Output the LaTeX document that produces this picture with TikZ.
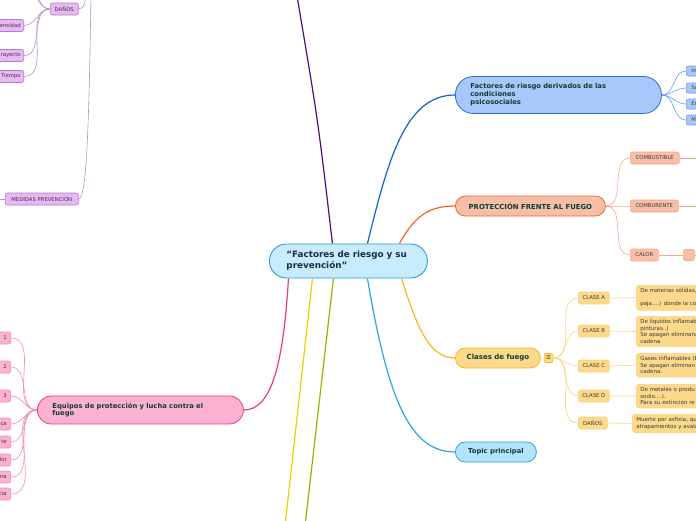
\documentclass[tikz,border=0pt]{standalone}
\usepackage{fontspec}
\setmainfont{DejaVu Sans}
\usetikzlibrary{positioning,calc}
\definecolor{ctrF}{HTML}{C7ECFB}
\definecolor{ctrB}{HTML}{2E9AD8}
\definecolor{ctrT}{HTML}{1B2B4B}
\definecolor{topicT}{HTML}{0E3D33}
\definecolor{subT}{HTML}{3A3A3A}
\definecolor{psiF}{HTML}{A8C8FB}
\definecolor{psiB}{HTML}{2A6FD6}
\definecolor{psiL}{HTML}{1560D0}
\definecolor{psiS}{HTML}{6C9CE8}
\definecolor{fueF}{HTML}{F8BFA8}
\definecolor{fueB}{HTML}{F2632E}
\definecolor{fueS}{HTML}{F8A88C}
\definecolor{claF}{HTML}{FDD98B}
\definecolor{claB}{HTML}{F6B81A}
\definecolor{claS}{HTML}{FBD27E}
\definecolor{topF}{HTML}{B4E4FA}
\definecolor{topB}{HTML}{2AA7E0}
\definecolor{equF}{HTML}{FDB1D1}
\definecolor{equB}{HTML}{EA3A83}
\definecolor{equS}{HTML}{F58BBA}
\definecolor{lavF}{HTML}{E8B8F5}
\definecolor{lavB}{HTML}{B47CD0}
\definecolor{lavS}{HTML}{B98BD2}
\definecolor{purL}{HTML}{4E0D7D}
\definecolor{yelL}{HTML}{E8D400}
\definecolor{grnL}{HTML}{86BD00}
\begin{document}
\begin{tikzpicture}[
  x=1pt, y=-1pt,
  central/.style={rectangle, rounded corners=17pt, draw=ctrB, fill=ctrF,
    line width=0.9pt, minimum height=34pt, text width=124pt, inner xsep=17pt,
    align=left, text=ctrT, font=\fontsize{8.8}{11}\selectfont\bfseries},
  topic/.style={rectangle, draw, line width=0.8pt, text=topicT,
    font=\fontsize{6.8}{8}\selectfont\bfseries},
  sub/.style={rectangle, rounded corners=2pt, draw, line width=0.6pt,
    minimum height=12pt, inner xsep=3pt, inner ysep=1pt, text=subT,
    font=\fontsize{5.3}{6}\selectfont},
  note/.style={rectangle, rounded corners=3pt, draw=claS, fill=claF,
    line width=0.6pt, text width=80pt, inner xsep=4pt, inner ysep=3.2pt,
    align=left, text=subT, font=\fontsize{5.5}{6.5}\selectfont},
  branch/.style={line width=1.2pt},
  twig/.style={line width=0.6pt},
]
\useasboundingbox (0,0) rectangle (696,520);

% central topic
\node[central, anchor=west] (ctr) at (269,261) {“Factores de riesgo y su\\prevención”};

% main topics
\node[topic, draw=psiB, fill=psiF, rounded corners=18pt, minimum height=37pt,
  text width=176pt, inner xsep=15pt, align=left, anchor=west] (psico) at (455,95)
  {Factores de riesgo derivados de las\\condiciones\\psicosociales};
\node[topic, draw=fueB, fill=fueF, rounded corners=10pt, minimum height=20pt,
  minimum width=150pt, font=\fontsize{6.9}{8}\selectfont\bfseries, anchor=west] (fuego) at (455,206)
  {PROTECCIÓN FRENTE AL FUEGO};
\node[topic, draw=claB, fill=claF, rounded corners=10pt, minimum height=20pt,
  minimum width=85pt, font=\fontsize{7}{8}\selectfont\bfseries, anchor=west] (clases) at (455,358)
  {Clases de fuego};
\node[sub, draw=claB, fill=claF, minimum height=9pt, minimum width=9pt, inner sep=0.5pt,
  text=topicT, right=3pt of clases] (cIcon) {☰};
\node[topic, draw=topB, fill=topF, rounded corners=10pt, minimum height=20pt,
  minimum width=81pt, anchor=west] (topicp) at (455,452) {Topic principal};
\node[topic, draw=equB, fill=equF, rounded corners=14pt, minimum height=28pt,
  text width=176pt, inner xsep=15pt, align=left, anchor=west,
  font=\fontsize{6.8}{7.8}\selectfont\bfseries] (equipos) at (37,410)
  {Equipos de protección y lucha contra el\\fuego};

% free ends of the branches leaving the page
\coordinate (purTop) at (297,-4);
\coordinate (yelBot) at (285,526);
\coordinate (grnBot) at (305,526);

\draw[branch, purL] ([xshift=-16]ctr.north) .. controls (318,120) .. (purTop);
\draw[branch, psiL] ([xshift=19]ctr.north) .. controls (388,160) and (405,95) .. (psico.west);
\draw[branch, fueB] ([xshift=51]ctr.north) .. controls (415,215) and (430,206) .. (fuego.west);
\draw[branch, claB] ([xshift=53]ctr.south) .. controls (418,330) and (430,358) .. (clases.west);
\draw[branch, topB] ([xshift=19]ctr.south) .. controls (388,400) and (410,452) .. (topicp.west);
\draw[branch, yelL] ([xshift=-36]ctr.south) -- (yelBot);
\draw[branch, grnL] ([xshift=-15]ctr.south) -- (grnBot);
\draw[branch, equB] ([xshift=-60]ctr.south) .. controls (283,370) and (270,410) .. (equipos.east);

% psicosociales
\foreach \n/\t/\y in {p1/In/71, p2/Sa/88, p3/En/104, p4/M/120} {
  \node[sub, draw=psiS, fill=psiF, minimum height=10pt, text width=22pt,
    align=left, inner xsep=5pt, anchor=west] (\n) at (686,\y) {\t};
  \draw[twig, psiS] (psico.east) to[out=0, in=180] (\n.west);
}

% proteccion frente al fuego
\node[sub, draw=fueS, fill=fueF, minimum width=49pt, anchor=west] (combus) at (630,158) {COMBUSTIBLE};
\node[sub, draw=fueS, fill=fueF, minimum width=48pt, anchor=west] (combur) at (630,206) {COMBURENTE};
\node[sub, draw=fueS, fill=fueF, minimum width=28pt, anchor=west] (calor) at (630,255) {CALOR};
\node[sub, draw=fueS, fill=fueF, minimum width=11pt, minimum height=11pt, inner sep=0pt,
  anchor=west] (calorX) at (683,255) {};
\coordinate (combusR) at (700,158);
\coordinate (comburR) at (700,206);
\coordinate (calorR) at (700,255);
\foreach \n in {combus, combur, calor}
  \draw[twig, fueS] (fuego.east) to[out=0, in=180] (\n.west);
\draw[twig, fueS] (combus.east) -- (combusR);
\draw[twig, fueS] (combur.east) -- (comburR);
\draw[twig, fueS] (calor.east) -- (calorX.west);
\draw[twig, fueS] (calorX.east) -- (calorR);

% clases de fuego
\foreach \n/\t/\y in {cA/CLASE A/298, cB/CLASE B/331, cC/CLASE C/366, cD/CLASE D/396} {
  \node[sub, draw=claS, fill=claF, minimum width=31pt, anchor=west] (\n) at (578,\y) {\t};
  \draw[twig, claS] (cIcon.east) to[out=0, in=180] (\n.west);
}
\node[sub, draw=claS, fill=claF, minimum width=29pt, anchor=west] (cDan) at (578,423) {DAÑOS};
\draw[twig, claS] (cIcon.east) to[out=0, in=180] (cDan.west);

\node[note, anchor=north west] (nA) at (636,285) {De materias sólidas,\\ \mbox{}\\paja....) donde la con};
\node[note, anchor=north west] (nB) at (636,316) {De líquidos inflamab\\pinturas..)\\Se apagan eliminana\\cadena};
\node[note, anchor=north west] (nC) at (636,353) {Gases inflamables (B\\Se apagan eliminan\\cadena.};
\node[note, anchor=north west] (nD) at (636,384) {De metales o produ\\sodio....).\\Para su extinción re};
\node[note, anchor=north west] (nDan) at (632,414) {Muerte por asfixia, qu\\atrapamientos y avala};
\draw[twig, claS] (cA.east) to[out=0, in=180] (nA.west);
\draw[twig, claS] (cB.east) to[out=0, in=180] (nB.west);
\draw[twig, claS] (cC.east) to[out=0, in=180] (nC.west);
\draw[twig, claS] (cD.east) to[out=0, in=180] (nD.west);
\draw[twig, claS] (cDan.east) to[out=0, in=180] (nDan.west);

% equipos de proteccion
\foreach \n/\t/\y in {e1/1/338, e2/2/367, e3/3/396, e4/ca/424, e5/te/442, e6/dor/460, e7/na/477, e8/cia/494} {
  \node[sub, draw=equS, fill=equF, text width=24pt, align=right, inner xsep=4pt,
    anchor=east] (\n) at (11,\y) {\t};
  \draw[twig, equS] (equipos.west) to[out=180, in=0] (\n.east);
}

% danos / medidas (lavender branch)
\node[sub, draw=lavB, fill=lavF, minimum width=28pt, anchor=west] (danos) at (50,9) {DAÑOS};
\foreach \n/\t/\y in {d1/ensidad/25.5, d2/rayecto/55.5, d3/Tiempo/76.5} {
  \node[sub, draw=lavB, fill=lavF, text width=30pt, align=right, inner xsep=3pt,
    anchor=east] (\n) at (24,\y) {\t};
  \draw[twig, lavS] (danos.west) to[out=180, in=0] (\n.east);
}
\coordinate (dUp1) at (24,-12);
\coordinate (dUp2) at (24,-30);
\coordinate (dTop) at (85,-6);
\draw[twig, lavS] (danos.west) to[out=180, in=0] (dUp1);
\draw[twig, lavS] (danos.west) to[out=180, in=0] (dUp2);
\draw[twig, lavS] (danos.east) to[out=0, in=-80] (dTop);

\node[sub, draw=lavB, fill=lavF, minimum width=73pt, anchor=west] (medidas) at (5,199) {MEDIDAS PREVENCIÓN};
\coordinate (mTop) at (91,-6);
\coordinate (mLeft) at (-10,199);
\draw[twig, lavS] (medidas.east) .. controls (87,199) and (89,120) .. (mTop);
\draw[twig, lavS] (medidas.west) -- (mLeft);
\end{tikzpicture}
\end{document}
